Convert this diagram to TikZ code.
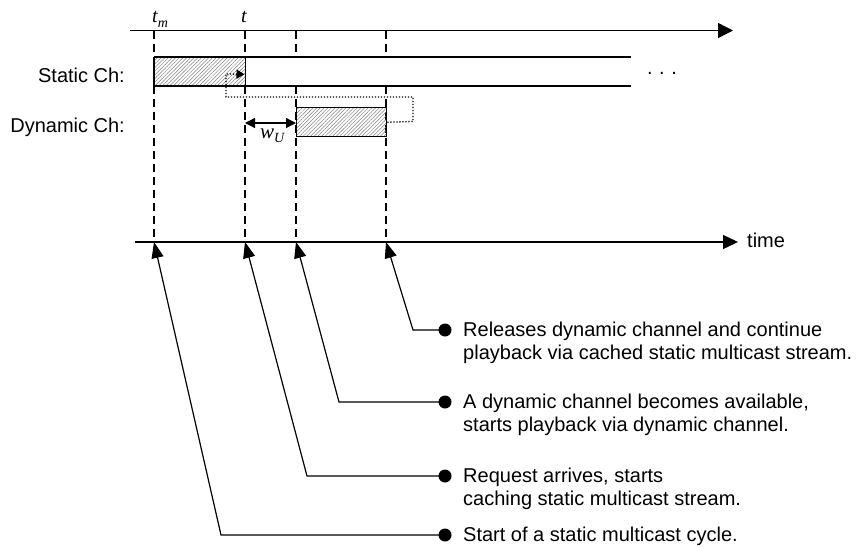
\documentclass[tikz,border=0pt]{standalone}
\usepackage{fontspec}
\setmainfont{Liberation Sans}
\newfontfamily\tnr{Liberation Serif}
\usetikzlibrary{arrows.meta,patterns.meta,calc}

\begin{document}
\begin{tikzpicture}[x=1pt,y=-1pt,
  axis/.style={line width=1.4pt},
  guide/.style={line width=1.2pt, dash pattern=on 8pt off 5pt},
  chan/.style={line width=1.4pt},
  hatch/.style={pattern={Lines[angle=45,distance=2.6pt,line width=0.5pt]}, pattern color=gray},
  loopline/.style={line width=1.3pt, dash pattern=on 1.3pt off 1.7pt},
  pointer/.style={line width=1.2pt, -{Triangle[length=16pt,width=12pt]}},
  pin/.style={circle, fill, inner sep=0pt, minimum size=13pt},
  event/.style={anchor=north west, inner sep=0pt, align=left, font=\fontsize{20}{23}\selectfont},
  chlabel/.style={anchor=base east, inner sep=0pt, font=\fontsize{20}{23}\selectfont},
  symb/.style={inner sep=0pt, font=\tnr\itshape\fontsize{20}{20}\selectfont}
]
\useasboundingbox (0,0) rectangle (856,546);

% time axes
\coordinate (topL) at (130,30.5);
\coordinate (topR) at (733,30.5);
\coordinate (botL) at (135,242);
\coordinate (botR) at (738,242);
\draw[axis, -{Triangle[length=15pt,width=15pt]}] (topL) -- (topR);
\draw[axis, -{Triangle[length=15pt,width=14pt]}] (botL) -- (botR);
\node[anchor=base west, inner sep=0pt, font=\fontsize{20}{23}\selectfont] (timelbl) at (747,247) {time};

% event instants on the lower axis
\coordinate (a1) at (154,242);
\coordinate (a2) at (245,242);
\coordinate (a3) at (296,242);
\coordinate (a4) at (386,242);

% dashed guides (interrupted by the static channel)
\foreach \x in {154,245,296,386}{
  \draw[guide] (\x,30.5) -- (\x,57);
  \draw[guide] (\x,86) -- (\x,242);
}

% channel labels
\node[chlabel] (stlbl) at (125,82) {Static Ch:};
\node[chlabel] (dylbl) at (125,132) {Dynamic Ch:};

% static channel and its cached part
\node[hatch, draw=none, inner sep=0pt, minimum width=91pt, minimum height=29pt, anchor=north west] (cache) at (154,57) {};
\draw[chan] (154,57) -- (631,57);
\draw[chan] (154,86) -- (631,86);
\draw[chan] (cache.north west) -- (cache.south west);
\draw[chan] (cache.north east) -- (cache.south east);
\node[anchor=base, inner sep=0pt, font=\fontsize{20}{23}\selectfont] (more) at (662,74) {.\,\,.\,\,.};

% dynamic channel slot
\node[hatch, draw, chan, inner sep=0pt, minimum width=90pt, minimum height=29pt, anchor=north west] (dyn) at (296,107) {};

% caching loop from dynamic slot back into static stream
\draw[loopline, -{Triangle[length=8pt,width=9pt]}]
  (dyn.east) -- (413,121.5) -- (413,97) -- (226,97) -- (226,74) -- ($(cache.east)+(-1,2.5)$);

% waiting time
\draw[line width=1.3pt, {Triangle[length=10pt,width=10pt]}-{Triangle[length=10pt,width=10pt]}] (245,123) -- (dyn.west |- 0,123);
\node[symb, anchor=base west, font=\tnr\itshape\fontsize{21}{21}\selectfont] (wu) at (260,138) {w\raisebox{-4pt}{\tnr\itshape\fontsize{14}{14}\selectfont U}};

% time symbols
\node[symb, anchor=base west] (tmlbl) at (152,23) {t\raisebox{-5pt}{\tnr\itshape\fontsize{14}{14}\selectfont m}};
\node[symb, anchor=base west] (tlbl) at (241,22) {t};

% event descriptions
\node[event] (L1) at (463,320.4) {\strut Releases dynamic channel and continue\\playback via cached static multicast stream.};
\node[event] (L2) at (463,392.4) {\strut A dynamic channel becomes available,\\starts playback via dynamic channel.};
\node[event] (L3) at (463,466.4) {\strut Request arrives, starts\\caching static multicast stream.};
\node[event] (L4) at (463,525.4) {\strut Start of a static multicast cycle.};

% pins and pointers
\coordinate (d1) at (445,330);
\coordinate (d2) at (445,402);
\coordinate (d3) at (445,476);
\coordinate (d4) at (445,535);
\coordinate (e1) at (413,330);
\coordinate (e2) at (339,402);
\coordinate (e3) at (307,476);
\coordinate (e4) at (221,535);

\node[pin] (p1) at (d1) {};
\node[pin] (p2) at (d2) {};
\node[pin] (p3) at (d3) {};
\node[pin] (p4) at (d4) {};

\draw[pointer] (p1.center) -- (e1) -- (a4);
\draw[pointer] (p2.center) -- (e2) -- (a3);
\draw[pointer] (p3.center) -- (e3) -- (a2);
\draw[pointer] (p4.center) -- (e4) -- (a1);
\end{tikzpicture}
\end{document}
